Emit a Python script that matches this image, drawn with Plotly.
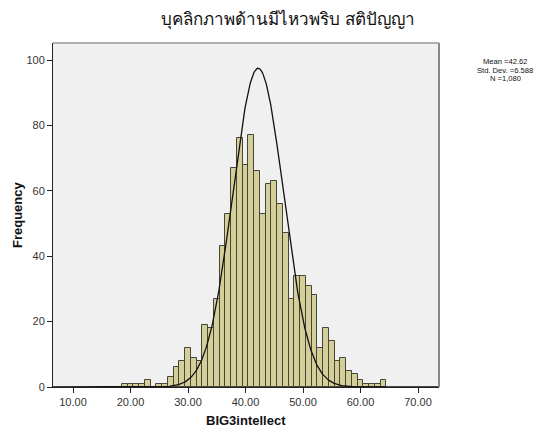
import numpy as np
import plotly.graph_objects as go

# ---- data ----
bin_centers = list(range(19, 65))
counts = [1, 1, 1, 1, 2, 0, 1, 1, 3, 6, 8, 12, 9, 8, 19, 18, 27, 43, 53, 67,
          76, 68, 77, 66, 53, 62, 63, 56, 47, 27, 34, 34, 31, 28, 12, 18, 14, 8,
          9, 5, 4, 2, 1, 1, 1, 2]
x_ticks = [10, 20, 30, 40, 50, 60, 70]
y_ticks = [0, 20, 40, 60, 80, 100]
stat_lines = ["Mean =42.62", "Std. Dev. =6.588", "N =1,080"]
title_text = "บุคลิกภาพด้านมีไหวพริบ สติปัญญา"
x_title = "BIG3intellect"
y_title = "Frequency"

# normal curve parameters as drawn in the reference
curve_mean = 42.2
curve_sd = 4.42
curve_n = 1080
bin_width = 1.0

FONT = "Liberation Sans, Arial, Noto Sans, sans-serif"

# page has an 8px body margin: work in screen pixels, convert to figure pixels
OFF = 8
W, H = 549 - OFF, 432 - OFF
L, R, T, B = 53 - OFF, 439 - OFF, 43 - OFF, 387 - OFF
PW, PH = R - L, B - T


def px(xs_screen):
    return (xs_screen - OFF - L) / PW


def py(ys_screen):
    return (B - (ys_screen - OFF)) / PH


xs = np.linspace(6.5, 73.6, 600)
ys = curve_n * bin_width / (curve_sd * np.sqrt(2 * np.pi)) * np.exp(-0.5 * ((xs - curve_mean) / curve_sd) ** 2)

fig = go.Figure()
fig.add_trace(go.Bar(
    x=bin_centers, y=counts, width=bin_width,
    marker=dict(color="#D4CF98", line=dict(color="#45453a", width=1)),
    hoverinfo="x+y",
))
fig.add_trace(go.Scatter(x=xs, y=ys, mode="lines",
                         line=dict(color="#111111", width=1.3), hoverinfo="skip"))

fig.update_layout(
    width=W, height=H,
    margin=dict(l=L, r=W - R, t=T, b=H - B, autoexpand=False),
    paper_bgcolor="white", plot_bgcolor="#F0F0F0",
    showlegend=False, bargap=0,
    font=dict(family=FONT, size=11, color="#222222"),
)
fig.update_xaxes(
    range=[6.52, 73.65], tickvals=x_ticks, tickformat=".2f", automargin=False,
    ticks="outside", ticklen=5, tickcolor="#222", showgrid=False, zeroline=False,
    showline=True, linecolor="#222", linewidth=1,
    tickfont=dict(size=11, color="#333"),
)
fig.update_yaxes(
    range=[0, 105.2], tickvals=y_ticks, automargin=False,
    ticks="outside", ticklen=5, tickcolor="#222", showgrid=False, zeroline=False,
    showline=True, linecolor="#222", linewidth=1,
    tickfont=dict(size=11, color="#333"),
)
# grey frame on top/right
fig.add_shape(type="line", xref="paper", yref="paper", x0=0, x1=1, y0=1, y1=1,
              line=dict(color="#999999", width=1.5))
fig.add_shape(type="line", xref="paper", yref="paper", x0=1, x1=1, y0=0, y1=1,
              line=dict(color="#888888", width=2))

fig.add_annotation(text=title_text, xref="paper", yref="paper",
                   x=px(288), y=py(19), showarrow=False,
                   xanchor="center", yanchor="middle",
                   font=dict(size=17, color="#111", family=FONT))
fig.add_annotation(text="<b>" + x_title + "</b>", xref="paper", yref="paper",
                   x=px(246), y=py(420), showarrow=False,
                   xanchor="center", yanchor="middle",
                   font=dict(size=13, color="#111", family=FONT))
fig.add_annotation(text="<b>" + y_title + "</b>", xref="paper", yref="paper",
                   x=px(17), y=py(215), showarrow=False, textangle=-90,
                   xanchor="center", yanchor="middle",
                   font=dict(size=13, color="#111", family=FONT))
for i, line in enumerate(stat_lines):
    fig.add_annotation(text=line, xref="paper", yref="paper",
                       x=px(505), y=py(61.5 + 8.6 * i), showarrow=False,
                       xanchor="center", yanchor="middle", height=7,
                       font=dict(size=7.6, color="#111", family=FONT))

fig.write_html("out.html")
